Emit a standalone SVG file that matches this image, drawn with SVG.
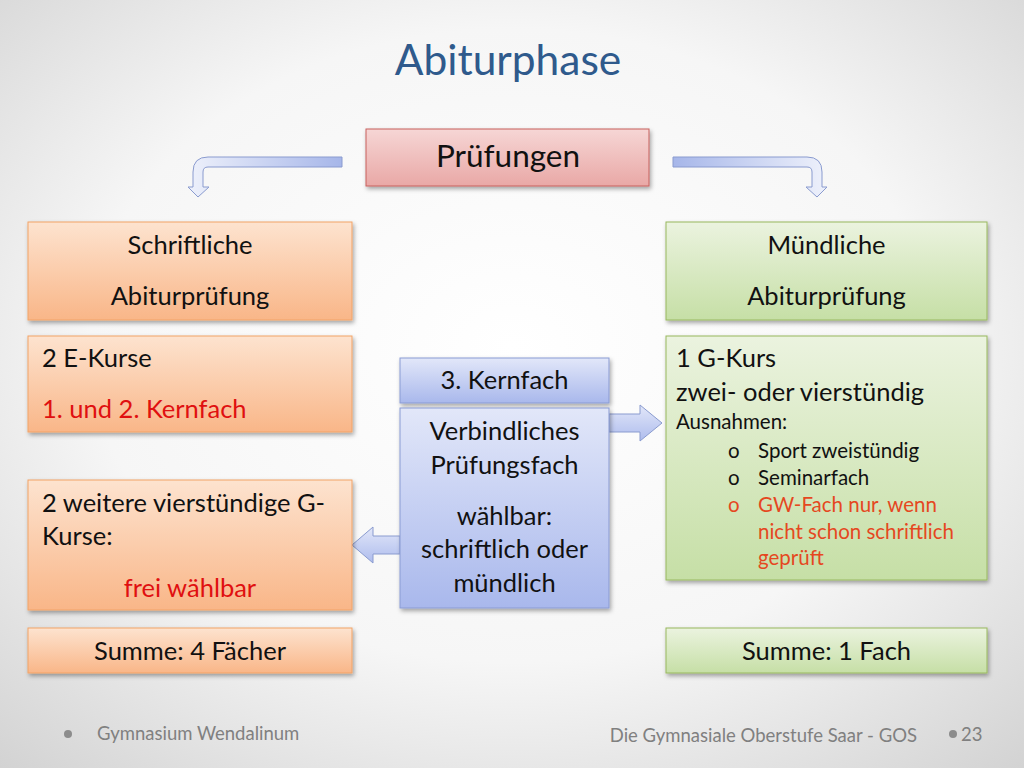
<svg xmlns="http://www.w3.org/2000/svg" width="1024" height="768" viewBox="0 0 1024 768">
<defs>
<radialGradient id="bg" cx="50%" cy="45%" r="75%">
<stop offset="0" stop-color="#ffffff"/>
<stop offset="0.55" stop-color="#f6f6f6"/>
<stop offset="1" stop-color="#d2d2d2"/>
</radialGradient>
<linearGradient id="gRed" x1="0" y1="0" x2="0" y2="1">
<stop offset="0" stop-color="#f6d6d5"/>
<stop offset="1" stop-color="#e9a8a6"/>
</linearGradient>
<linearGradient id="gOr" x1="0" y1="0" x2="0" y2="1">
<stop offset="0" stop-color="#fde3cf"/>
<stop offset="1" stop-color="#f9b688"/>
</linearGradient>
<linearGradient id="gGr" x1="0" y1="0" x2="0" y2="1">
<stop offset="0" stop-color="#ebf3df"/>
<stop offset="1" stop-color="#c6dfa6"/>
</linearGradient>
<linearGradient id="gBl" x1="0" y1="0" x2="0" y2="1">
<stop offset="0" stop-color="#e2e7f9"/>
<stop offset="1" stop-color="#a9b8ec"/>
</linearGradient>
<linearGradient id="gArrL" x1="0" y1="0" x2="1" y2="0">
<stop offset="0" stop-color="#eef1fb"/>
<stop offset="1" stop-color="#a6b6e9"/>
</linearGradient>
<linearGradient id="gArrR" x1="1" y1="0" x2="0" y2="0">
<stop offset="0" stop-color="#eef1fb"/>
<stop offset="1" stop-color="#a6b6e9"/>
</linearGradient>
<linearGradient id="gArrH" x1="0" y1="0" x2="0" y2="1">
<stop offset="0" stop-color="#e2e7f9"/>
<stop offset="1" stop-color="#aebced"/>
</linearGradient>
<filter id="sh" x="-10%" y="-10%" width="125%" height="130%">
<feDropShadow dx="1.5" dy="2.5" stdDeviation="2" flood-color="#000" flood-opacity="0.35"/>
</filter>
<style>
text{font-family:"Lato","Open Sans","Liberation Sans",sans-serif;fill:#111}
.t22{font-size:25.5px}
.c{text-anchor:middle}
.red{fill:#e01010}
.ored{fill:#e5481f}
.sm{font-size:20.5px}
.foot{font-size:18.5px;fill:#808080}
.or{fill:url(#gOr);stroke:#f2a367;stroke-width:1}
.gr{fill:url(#gGr);stroke:#98b85e;stroke-width:1}
.bl{fill:url(#gBl);stroke:#8a9bd3;stroke-width:1}
.arr{stroke:#8a9bcf;stroke-width:1}
</style>
</defs>
<rect width="1024" height="768" fill="url(#bg)"/>

<text x="508" y="75" class="c" style="font-size:42.5px;fill:#2f5a8c">Abiturphase</text>

<g id="pruefungen">
<rect x="366" y="129" width="283" height="57" fill="url(#gRed)" stroke="#c7605d" stroke-width="1" filter="url(#sh)"/>
<text x="508" y="167" class="c" style="font-size:31.5px">Prüfungen</text>
</g>

<g id="connectors">
<path class="arr" fill="url(#gArrL)" d="M342,157 L208,157 Q193,157 193,172 L193,187 L188,187 L198,197 L209,187 L203,187 L203,172 Q203,167 208,167 L342,167 Z"/>
<path class="arr" fill="url(#gArrR)" d="M673,157 L807,157 Q822,157 822,172 L822,187 L827,187 L817,197 L806,187 L812,187 L812,172 Q812,167 807,167 L673,167 Z"/>
<path class="arr" fill="url(#gArrH)" d="M609,414 L640,414 L640,405 L662,423 L640,441 L640,432 L609,432 Z"/>
<path class="arr" fill="url(#gArrH)" d="M400,536 L373,536 L373,527 L352,545 L373,563 L373,554 L400,554 Z"/>
</g>

<g id="schriftliche">
<rect x="28" y="222" width="324" height="98" class="or" filter="url(#sh)"/>
<text x="190" y="254" class="t22 c">Schriftliche</text>
<text x="190" y="305" class="t22 c">Abiturprüfung</text>
</g>

<g id="ekurse">
<rect x="28" y="336" width="324" height="96" class="or" filter="url(#sh)"/>
<text x="42" y="367" class="t22">2 E-Kurse</text>
<text x="42" y="418" class="t22 red">1. und 2. Kernfach</text>
</g>

<g id="gkurse">
<rect x="28" y="480" width="324" height="130" class="or" filter="url(#sh)"/>
<text x="42" y="512" class="t22">2 weitere vierstündige G-</text>
<text x="42" y="545" class="t22">Kurse:</text>
<text x="190" y="597" class="t22 c red">frei wählbar</text>
</g>

<g id="summe4">
<rect x="28" y="628" width="324" height="45" class="or" filter="url(#sh)"/>
<text x="190" y="660" class="t22 c">Summe: 4 Fächer</text>
</g>

<g id="kernfach3">
<rect x="400" y="358" width="209" height="45" class="bl" filter="url(#sh)"/>
<text x="504.5" y="389" class="t22 c">3. Kernfach</text>
</g>

<g id="verbindlich">
<rect x="400" y="408" width="209" height="200" class="bl" filter="url(#sh)"/>
<text x="504.5" y="440" class="t22 c">Verbindliches</text>
<text x="504.5" y="474" class="t22 c">Prüfungsfach</text>
<text x="504.5" y="525" class="t22 c">wählbar:</text>
<text x="504.5" y="558" class="t22 c">schriftlich oder</text>
<text x="504.5" y="592" class="t22 c">mündlich</text>
</g>

<g id="muendliche">
<rect x="666" y="222" width="321" height="98" class="gr" filter="url(#sh)"/>
<text x="826.5" y="254" class="t22 c">Mündliche</text>
<text x="826.5" y="305" class="t22 c">Abiturprüfung</text>
</g>

<g id="gkurs1">
<rect x="666" y="336" width="321" height="244" class="gr" filter="url(#sh)"/>
<text x="676" y="367" class="t22">1 G-Kurs</text>
<text x="676" y="401" class="t22">zwei- oder vierstündig</text>
<text x="676" y="429" class="sm">Ausnahmen:</text>
<text x="728" y="458" class="sm">o</text>
<text x="758" y="458" class="sm">Sport zweistündig</text>
<text x="728" y="485" class="sm">o</text>
<text x="758" y="485" class="sm">Seminarfach</text>
<text x="728" y="512" class="sm ored">o</text>
<text x="758" y="512" class="sm ored">GW-Fach nur, wenn</text>
<text x="758" y="539" class="sm ored">nicht schon schriftlich</text>
<text x="758" y="565" class="sm ored">geprüft</text>
</g>

<g id="summe1">
<rect x="666" y="628" width="321" height="45" class="gr" filter="url(#sh)"/>
<text x="826.5" y="660" class="t22 c">Summe: 1 Fach</text>
</g>

<circle cx="68" cy="734" r="4" fill="#8c8c8c"/>
<text x="97" y="740" class="foot">Gymnasium Wendalinum</text>
<text x="917" y="742" class="foot" style="text-anchor:end">Die Gymnasiale Oberstufe Saar - GOS</text>
<circle cx="953" cy="734" r="4" fill="#8c8c8c"/>
<text x="961" y="741" class="foot">23</text>
</svg>
